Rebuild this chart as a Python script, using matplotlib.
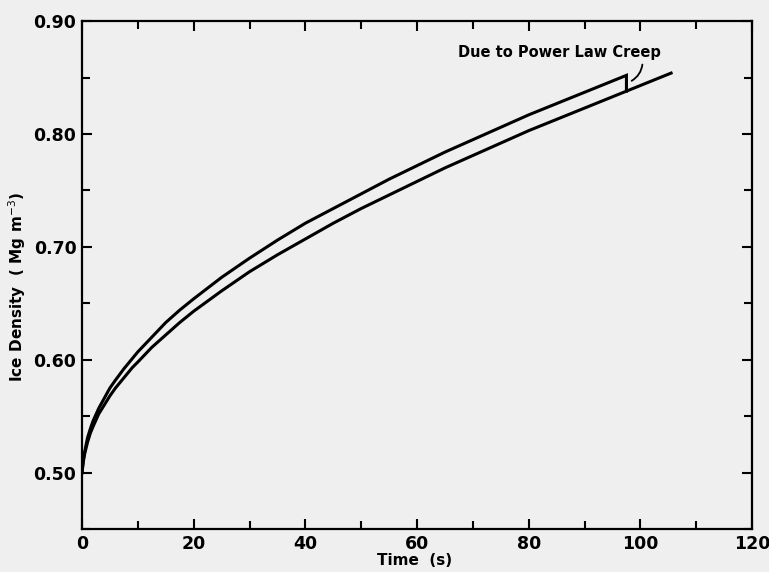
import matplotlib.pyplot as plt
from matplotlib.ticker import MultipleLocator

# Densification curves (upper curve ends with the drop at ~97.5 s)
time_upper = [0, 0.25, 0.5, 1, 1.5, 2, 3, 4, 5, 6, 7.5, 9, 10, 12.5, 15, 17.5, 20, 25, 30,
              35, 40, 45, 50, 55, 60, 65, 70, 75, 80, 85, 90, 95, 97.5, 97.5]
dens_upper = [0.500, 0.512, 0.519, 0.531, 0.539, 0.546, 0.557, 0.566, 0.575, 0.582, 0.592,
              0.601, 0.607, 0.620, 0.633, 0.644, 0.654, 0.673, 0.690, 0.706, 0.721, 0.734,
              0.747, 0.760, 0.772, 0.784, 0.795, 0.806, 0.817, 0.827, 0.837, 0.847, 0.852,
              0.838]

time_lower = [0, 0.25, 0.5, 1, 1.5, 2, 3, 4, 5, 6, 7.5, 9, 10, 12.5, 15, 17.5, 20, 25, 30,
              35, 40, 45, 50, 55, 60, 65, 70, 75, 80, 85, 90, 95, 100, 105.5]
dens_lower = [0.500, 0.510, 0.517, 0.527, 0.535, 0.541, 0.552, 0.560, 0.568, 0.575, 0.584,
              0.593, 0.598, 0.611, 0.622, 0.633, 0.643, 0.661, 0.678, 0.693, 0.707, 0.721,
              0.734, 0.746, 0.758, 0.770, 0.781, 0.792, 0.803, 0.813, 0.823, 0.833, 0.843,
              0.854]

x_ticks = [0, 20, 40, 60, 80, 100, 120]
y_ticks = [0.50, 0.60, 0.70, 0.80, 0.90]

bg = '#efefef'
fig = plt.figure(figsize=(7.69, 5.72), dpi=100, facecolor=bg)
ax = fig.add_axes([0.1066, 0.075, 0.8714, 0.888], facecolor=bg)

ax.plot(time_upper, dens_upper, color='black', lw=2.2, solid_joinstyle='miter')
ax.plot(time_lower, dens_lower, color='black', lw=2.2)

ax.set_xlim(0, 120)
ax.set_ylim(0.45, 0.90)
ax.set_xticks(x_ticks)
ax.set_yticks(y_ticks)
ax.set_yticklabels(["%.2f" % v for v in y_ticks])
ax.xaxis.set_minor_locator(MultipleLocator(10))
ax.yaxis.set_minor_locator(MultipleLocator(0.05))
ax.tick_params(which='both', direction='in', top=True, right=True, width=1.5,
               labelsize=12.5, pad=4)
ax.tick_params(which='major', length=7)
ax.tick_params(which='minor', length=6)
for lbl in ax.get_xticklabels() + ax.get_yticklabels():
    lbl.set_fontweight('semibold')
for sp in ax.spines.values():
    sp.set_linewidth(1.6)

ax.set_xlabel("Time  (s)", fontsize=11, fontweight='semibold')
ax.xaxis.set_label_coords(0.497, -0.047)
ax.set_ylabel("Ice Density  ( Mg m$^{-3}$)", fontsize=11, fontweight='semibold')
ax.yaxis.set_label_coords(-0.08, 0.476)

ax.text(85.5, 0.872, "Due to Power Law Creep", ha='center', va='center',
        fontsize=10.5, fontweight='bold')
ax.annotate("", xy=(98.0, 0.846), xytext=(100.4, 0.864),
            arrowprops=dict(arrowstyle='-', color='black', lw=1.3,
                            connectionstyle='arc3,rad=-0.3'))

fig.savefig("out.png", dpi=100, facecolor=bg)
